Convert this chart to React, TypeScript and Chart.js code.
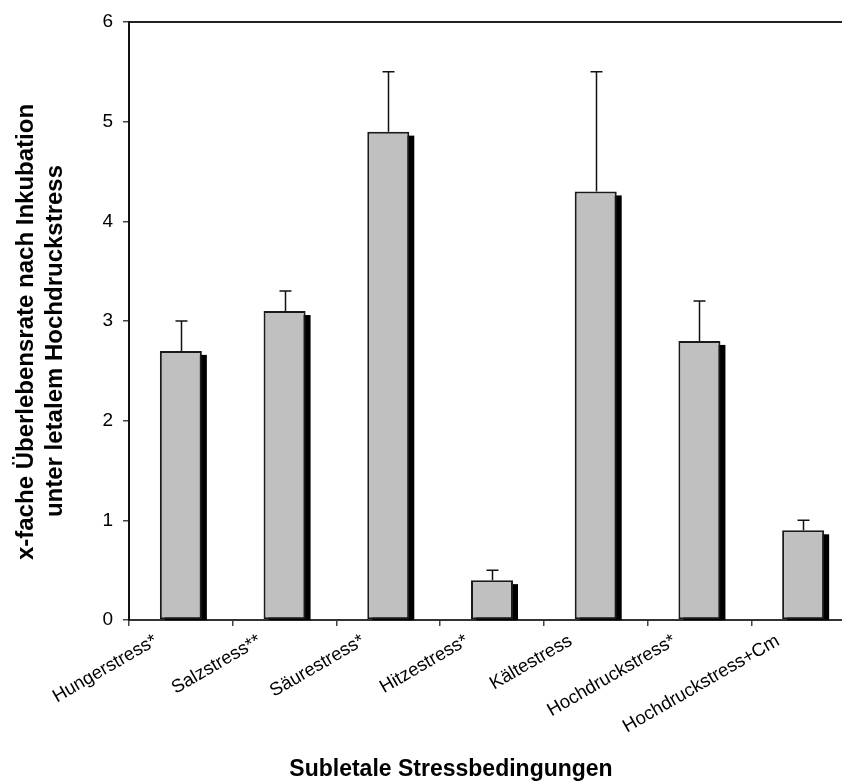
import React, { useEffect, useRef } from "react";
import { Chart, registerables } from "chart.js";

Chart.register(...registerables);

const categories = [
  "Hungerstress*",
  "Salzstress**",
  "Säurestress*",
  "Hitzestress*",
  "Kältestress",
  "Hochdruckstress*",
  "Hochdruckstress+Cm",
];
const values = [2.7, 3.1, 4.9, 0.4, 4.3, 2.8, 0.9];
const errorUpper = [0.3, 0.2, 0.6, 0.1, 1.2, 0.4, 0.1];
const yTickValues = [0, 1, 2, 3, 4, 5, 6];
const yTitleLines = ["x-fache Überlebensrate nach Inkubation", "unter letalem Hochdruckstress"];
const xTitle = "Subletale Stressbedingungen";

const FONT = '"Liberation Sans", Arial, Helvetica, sans-serif';

const shadowPlugin = {
  id: "barShadow",
  beforeDatasetsDraw(chart: any) {
    const ctx = chart.ctx;
    const meta = chart.getDatasetMeta(0);
    ctx.save();
    ctx.fillStyle = "#000";
    meta.data.forEach((el: any) => {
      const w = el.width;
      const left = el.x - w / 2 + 5;
      const top = el.y + 4;
      ctx.fillRect(left, top, w, el.base - top + 1);
    });
    ctx.restore();
  },
  afterDatasetsDraw(chart: any) {
    const ctx = chart.ctx;
    const meta = chart.getDatasetMeta(0);
    const y = chart.scales.y;
    ctx.save();
    ctx.strokeStyle = "#111";
    ctx.lineWidth = 1.5;
    meta.data.forEach((el: any, i: number) => {
      const topPx = y.getPixelForValue(values[i] + errorUpper[i]);
      const x = Math.round(el.x) + 0.5;
      ctx.beginPath();
      ctx.moveTo(x, el.y);
      ctx.lineTo(x, topPx);
      ctx.moveTo(x - 6, topPx);
      ctx.lineTo(x + 6, topPx);
      ctx.stroke();
    });
    ctx.restore();
  },
  afterDraw(chart: any) {
    const ctx = chart.ctx;
    ctx.save();
    ctx.fillStyle = "#000";
    ctx.font = `bold 23px ${FONT}`;
    ctx.textAlign = "center";
    ctx.textBaseline = "alphabetic";
    ctx.fillText(xTitle, 451, 776);
    ctx.font = `bold 24px ${FONT}`;
    const ys = [33, 62];
    const cy = [332, 341];
    yTitleLines.forEach((line, i) => {
      ctx.save();
      ctx.translate(ys[i], cy[i]);
      ctx.rotate(-Math.PI / 2);
      ctx.fillText(line, 0, 0);
      ctx.restore();
    });
    ctx.restore();
  },
};

export default function App() {
  const ref = useRef<HTMLCanvasElement | null>(null);

  useEffect(() => {
    if (!ref.current) return;
    const chart = new Chart(ref.current, {
      type: "bar",
      data: {
        labels: categories,
        datasets: [
          {
            data: values,
            backgroundColor: "#c0c0c0",
            borderColor: "#1a1a1a",
            borderWidth: 2,
            borderSkipped: false,
            barPercentage: 0.405,
            categoryPercentage: 1,
          },
        ],
      },
      options: {
        responsive: false,
        animation: false,
        devicePixelRatio: 1,
        layout: { padding: { left: 0, right: 15, top: 22, bottom: 0 } },
        plugins: {
          legend: { display: false },
          tooltip: { enabled: false },
          title: { display: false },
        },
        scales: {
          x: {
            type: "category",
            position: "bottom",
            offset: true,
            grid: {
              display: true,
              drawOnChartArea: false,
              drawTicks: true,
              tickLength: 6,
              color: "#444",
              lineWidth: 1.5,
              offset: true,
            },
            border: { display: true, color: "#333", width: 2 },
            ticks: {
              autoSkip: false,
              minRotation: 30,
              maxRotation: 30,
              padding: 4,
              labelOffset: -25,
              color: "#000",
              font: { family: FONT, size: 18.5 },
            },
            afterFit(scale: any) {
              scale.height = 162;
            },
          },
          x2: {
            type: "category",
            position: "top",
            labels: categories,
            grid: { display: false, drawTicks: false },
            border: { display: true, color: "#222", width: 2 },
            ticks: { display: false },
            afterFit(scale: any) {
              scale.height = 0;
            },
          },
          y: {
            type: "linear",
            position: "left",
            min: 0,
            max: 6,
            afterBuildTicks(scale: any) {
              scale.ticks = yTickValues.map((v) => ({ value: v }));
            },
            grid: {
              display: true,
              drawOnChartArea: false,
              drawTicks: true,
              tickLength: 6,
              color: "#444",
              lineWidth: 1.5,
            },
            border: { display: true, color: "#111", width: 2 },
            ticks: {
              padding: 10,
              color: "#000",
              font: { family: FONT, size: 19 },
            },
            afterFit(scale: any) {
              scale.width = 129;
            },
          },
        },
      },
      plugins: [shadowPlugin],
    });
    return () => chart.destroy();
  }, []);

  return (
    <div
      style={{
        position: "fixed",
        left: 0,
        top: 0,
        width: 842,
        height: 782,
        overflow: "hidden",
        background: "#fff",
      }}
    >
      <canvas ref={ref} width={870} height={782} style={{ display: "block" }} />
    </div>
  );
}
